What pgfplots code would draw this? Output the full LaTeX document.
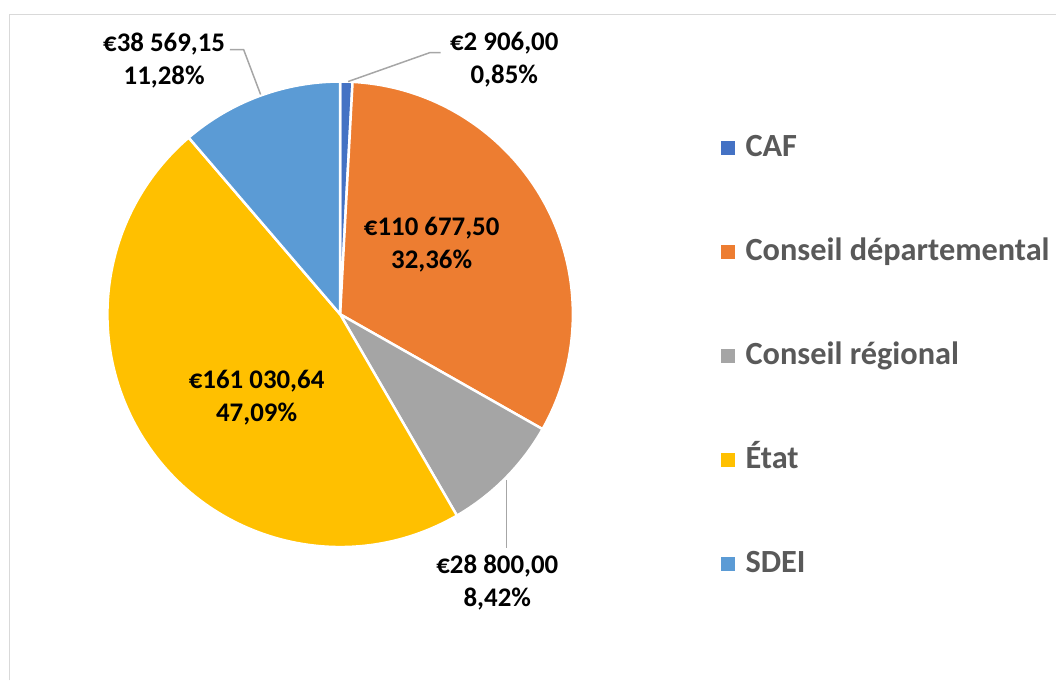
\documentclass[border=0pt]{standalone}
\usepackage{fontspec}
\setmainfont{Carlito}
\usepackage{pgfplots}
\usepackage{pgfplotstable}
\pgfplotsset{compat=1.18}

\definecolor{cCAF}{HTML}{4472C4}
\definecolor{cDep}{HTML}{ED7D31}
\definecolor{cReg}{HTML}{A5A5A5}
\definecolor{cEtat}{HTML}{FFC000}
\definecolor{cSDEI}{HTML}{5B9BD5}
\definecolor{frameGray}{HTML}{D9D9D9}
\definecolor{leadGray}{HTML}{A6A6A6}
\definecolor{legText}{HTML}{595959}

\pgfplotstableread[col sep=comma]{
name,value
CAF,2906.00
Conseil départemental,110677.50
Conseil régional,28800.00
État,161030.64
SDEI,38569.15
}\pietable

\pgfplotstablegetelem{0}{value}\of\pietable \let\vA\pgfplotsretval
\pgfplotstablegetelem{1}{value}\of\pietable \let\vB\pgfplotsretval
\pgfplotstablegetelem{2}{value}\of\pietable \let\vC\pgfplotsretval
\pgfplotstablegetelem{3}{value}\of\pietable \let\vD\pgfplotsretval
\pgfplotstablegetelem{4}{value}\of\pietable \let\vE\pgfplotsretval
\edef\total{\fpeval{\vA+\vB+\vC+\vD+\vE}}
\edef\aA{90}
\edef\aB{\fpeval{\aA-360*\vA/\total}}
\edef\aC{\fpeval{\aB-360*\vB/\total}}
\edef\aD{\fpeval{\aC-360*\vC/\total}}
\edef\aE{\fpeval{\aD-360*\vD/\total}}
\edef\aF{\fpeval{\aE-360*\vE/\total}}

\def\cx{342}
\def\cy{363}
\def\R{234}

\newcommand\slice[3]{%
  \fill[#1, draw=white, line width=2.5pt, line join=round]
    (axis cs:\cx,\cy) -- (axis cs:{\cx+\R*cos(#2)},{\cy+\R*sin(#2)})
    arc[start angle=#2, end angle=#3, radius=\R] -- cycle;}

\begin{document}
\begin{tikzpicture}
\begin{axis}[
  scale only axis, width=1057pt, height=679pt,
  xmin=0, xmax=1057, ymin=0, ymax=679,
  hide axis, clip=false,
  legend cell align=left,
  legend style={at={(axis cs:725,545)}, anchor=north west, draw=none, fill=none,
    inner sep=0pt, row sep=75.5pt, column sep=11pt,
    font=\fontsize{32.5}{32.5}\selectfont\bfseries\color{legText},
    nodes={inner sep=0pt, text height=23pt, text depth=6pt}},
  legend image code/.code={\fill[#1] (0pt,-6.5pt) rectangle (13pt,6.5pt);},
]
\path (axis cs:0,0) rectangle (axis cs:1057,679);
\draw[frameGray, line width=1.5pt] (axis cs:9.5,-5) -- (axis cs:9.5,664.5) -- (axis cs:1062,664.5);

\slice{cCAF}{\aA}{\aB}
\slice{cDep}{\aB}{\aC}
\slice{cReg}{\aC}{\aD}
\slice{cEtat}{\aD}{\aE}
\slice{cSDEI}{\aE}{\aF}

\addlegendimage{cCAF}\addlegendentry{CAF}
\addlegendimage{cDep}\addlegendentry{Conseil départemental}
\addlegendimage{cReg}\addlegendentry{Conseil régional}
\addlegendimage{cEtat}\addlegendentry{État}
\addlegendimage{cSDEI}\addlegendentry{SDEI}

% leader lines
\draw[leadGray, line width=1.5pt] (axis cs:350,597) -- (axis cs:432,626) -- (axis cs:443,626);
\draw[leadGray, line width=1.5pt] (axis cs:262,584) -- (axis cs:245,629) -- (axis cs:231,629);
\draw[leadGray, line width=1.5pt] (axis cs:509,196) -- (axis cs:509,128);

% data labels
\tikzset{dlab/.style={align=center, inner sep=0pt, font=\fontsize{27}{33}\selectfont\bfseries}}
\node[dlab] at (axis cs:507,619) {€2 906,00\\0,85\%};
\node[dlab] at (axis cs:165,618) {€38 569,15\\11,28\%};
\node[dlab] at (axis cs:500,93) {€28 800,00\\8,42\%};
\node[dlab] at (axis cs:434,433) {€110 677,50\\32,36\%};
\node[dlab] at (axis cs:258,279) {€161 030,64\\47,09\%};
\end{axis}
\end{tikzpicture}
\end{document}
